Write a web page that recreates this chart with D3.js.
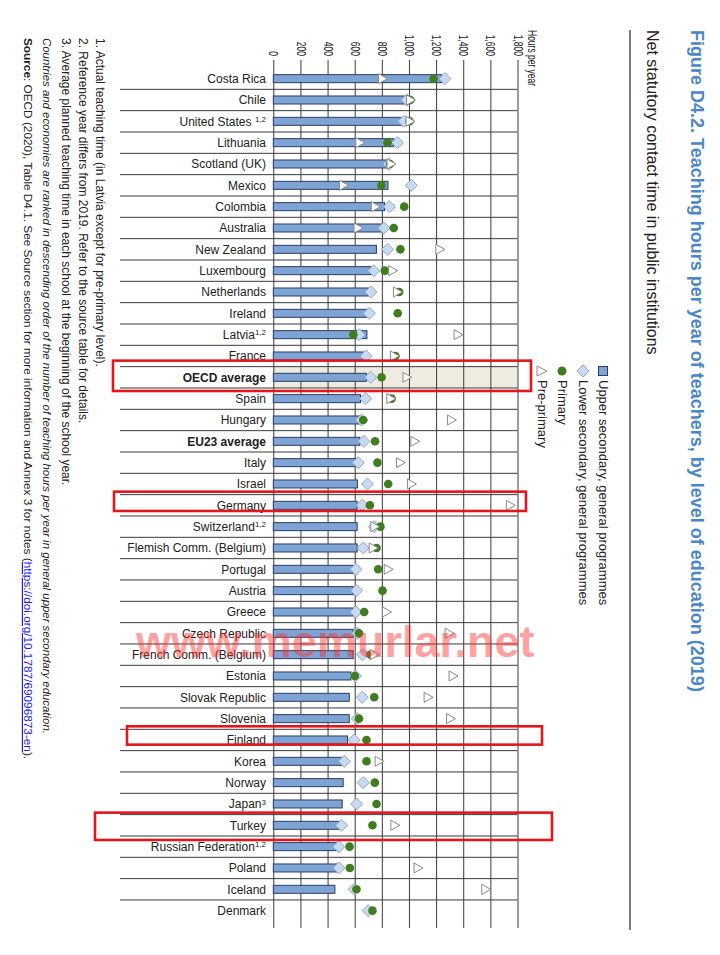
<!DOCTYPE html>
<html><head><meta charset="utf-8">
<script src="https://cdn.jsdelivr.net/npm/d3@7"></script>
<style>
html,body{margin:0;padding:0;background:#fff;}
svg{display:block;font-family:"Liberation Sans",Arial,sans-serif;}
</style></head>
<body>
<svg id="chart" width="720" height="955"></svg>
<script>
// ---------- DATA ----------
const categories = ["Costa Rica","Chile","United States","Lithuania","Scotland (UK)","Mexico","Colombia","Australia","New Zealand","Luxembourg","Netherlands","Ireland","Latvia","France","OECD average","Spain","Hungary","EU23 average","Italy","Israel","Germany","Switzerland","Flemish Comm. (Belgium)","Portugal","Austria","Greece","Czech Republic","French Comm. (Belgium)","Estonia","Slovak Republic","Slovenia","Finland","Korea","Norway","Japan","Turkey","Russian Federation","Poland","Iceland","Denmark"];
const notes = ["","","1,2","","","","","","","","","","1,2","","","","","","","","","1,2","","","","","","","","","","","","","3","","1,2","","",""];
const boldCategories = ["OECD average","EU23 average"];
const upperSecondary = [1240,980,960,885,850,845,820,805,760,720,700,700,690,668,686,643,638,638,622,620,618,618,618,589,589,589,589,589,572,560,560,547,518,515,508,485,466,466,454,null];
const lowerSecondary = [1265,985,962,915,852,1018,855,815,842,741,719,707,633,684,718,680,650,668,626,694,655,744,663,609,614,609,622,658,606,655,618,596,523,663,614,503,483,483,596,699];
const primary        = [1182,1010,1005,842,860,797,965,888,937,822,928,917,590,900,798,872,663,750,768,847,712,790,761,773,805,670,631,717,601,744,631,687,687,748,761,731,562,564,613,731];
const prePrimary     = [805,1012,1008,638,868,518,752,625,1227,880,915,null,1362,893,985,866,1313,1043,937,1018,1747,748,736,847,null,834,1296,745,1325,1141,1306,null,780,null,null,896,null,1067,1566,null];
const tickValues = [0,200,400,600,800,1000,1200,1400,1600,1800];
const legendLabels = ["Upper secondary, general programmes","Lower secondary, general programmes","Primary","Pre-primary"];
const title = "Figure D4.2. Teaching hours per year of teachers, by level of education (2019)";
const subtitle = "Net statutory contact time in public institutions";
const axisTitle = "Hours per year";
const footnotes = ["1. Actual teaching time (in Latvia except for pre-primary level).",
  "2. Reference year differs from 2019. Refer to the source table for details.",
  "3. Average planned teaching time in each school at the beginning of the school year."];
const rankingNote = "Countries and economies are ranked in descending order of the number of teaching hours per year in general upper secondary education.";
const sourceText = "OECD (2020), Table D4.1. See Source section for more information and Annex 3 for notes (";
const sourceLink = "https://doi.org/10.1787/69096873-en";
const highlighted = ["OECD average","Germany","Finland","Turkey"];
const watermark = "www.memurlar.net";

// ---------- STYLE ----------
const C = {bar:"#7ea4d6", barStroke:"#2a3d5e", dia:"#c9daf0", diaStroke:"#8ea9cf",
  prim:"#3f7d1f", tri:"#8a8a8a", grid:"#3a3a3a", title:"#4a86c8", text:"#222"};

const svg = d3.select("#chart");
const x = d3.scaleLinear().domain([0,1800]).range([273.3,517.5]);
const y = d3.scaleBand().domain(categories).range([68,921.3]).paddingInner(0);
const cy = c => y(c) + y.bandwidth()/2;
const gridTop = 60, gridBottom = 928;

// OECD band
svg.append("rect").attr("x",x(0)).attr("y",y("OECD average"))
  .attr("width",x(1800)-x(0)).attr("height",y.bandwidth()).attr("fill","#eeece1");

// vertical grid + tick labels
const ax = svg.append("g").attr("transform",`translate(0,${gridTop})`)
  .call(d3.axisTop(x).tickValues(tickValues).tickSize(-(gridBottom-gridTop)).tickSizeOuter(0));
ax.select(".domain").remove();
ax.selectAll(".tick line").attr("stroke",C.grid).attr("stroke-width",1);
ax.selectAll(".tick text").attr("y",null).attr("dy","0.35em")
  .attr("text-anchor","end").attr("fill",C.text)
  .style("font-size","12.5px")
  .attr("transform","translate(0,-4) rotate(90) scale(0.68,1)");

// horizontal separators
svg.append("g").selectAll("line").data(categories.slice(1)).join("line")
  .attr("x1",120).attr("x2",x(1800))
  .attr("y1",d=>y(d)).attr("y2",d=>y(d))
  .attr("stroke",C.grid).attr("stroke-width",1);

// axis title
svg.append("text").attr("transform","translate(532,30) rotate(90) scale(0.68,1)")
  .attr("dy","0.35em").style("font-size","12.5px").attr("fill",C.text).text(axisTitle);

// category labels
const lab = svg.append("g").selectAll("text").data(categories).join("text")
  .attr("x",266).attr("y",d=>cy(d)).attr("dy","0.36em").attr("text-anchor","end")
  .attr("fill",C.text).style("font-size","12px")
  .style("font-weight",d=>boldCategories.includes(d)?"bold":"normal");
lab.each(function(d,i){
  const t = d3.select(this);
  t.append("tspan").text(d + (notes[i] && d==="United States" ? " " : ""));
  if(notes[i]) t.append("tspan").attr("dy","-0.45em").style("font-size","8px").text(notes[i]);
});

// bars
const rows = categories.map((c,i)=>({c,u:upperSecondary[i],l:lowerSecondary[i],p:primary[i],pp:prePrimary[i]}));
svg.append("g").selectAll("rect").data(rows.filter(r=>r.u!=null)).join("rect")
  .attr("x",x(0)).attr("y",r=>cy(r.c)-4).attr("width",r=>x(r.u)-x(0)).attr("height",8)
  .attr("fill",C.bar).attr("stroke",C.barStroke).attr("stroke-width",1);

// diamonds
const dia = "M0,-6L6,0L0,6L-6,0Z";
svg.append("g").selectAll("path").data(rows.filter(r=>r.l!=null)).join("path")
  .attr("d",dia).attr("transform",r=>`translate(${x(r.l)},${cy(r.c)})`)
  .attr("fill",C.dia).attr("stroke",C.diaStroke).attr("stroke-width",1);
// circles
svg.append("g").selectAll("circle").data(rows.filter(r=>r.p!=null)).join("circle")
  .attr("cx",r=>x(r.p)).attr("cy",r=>cy(r.c)).attr("r",4.3).attr("fill",C.prim);
// triangles
const tri = "M-4,-5L5,0L-4,5Z";
svg.append("g").selectAll("path").data(rows.filter(r=>r.pp!=null)).join("path")
  .attr("d",tri).attr("transform",r=>`translate(${x(r.pp)},${cy(r.c)})`)
  .attr("fill","#fff").attr("stroke",C.tri).attr("stroke-width",1);

// legend
const legX = [603,583,562,542], legY = 371;
const lg = svg.append("g");
lg.append("rect").attr("x",legX[0]-4.5).attr("y",legY-4.5).attr("width",9).attr("height",9)
  .attr("fill",C.bar).attr("stroke",C.barStroke);
lg.append("path").attr("d",dia).attr("transform",`translate(${legX[1]},${legY})`)
  .attr("fill",C.dia).attr("stroke",C.diaStroke);
lg.append("circle").attr("cx",legX[2]).attr("cy",legY).attr("r",4.5).attr("fill",C.prim);
lg.append("path").attr("d","M-5,-5L5,0L-5,5Z").attr("transform",`translate(${legX[3]},${legY})`)
  .attr("fill","#fff").attr("stroke",C.tri);
legendLabels.forEach((t,i)=>{
  lg.append("text").attr("transform",`translate(${legX[i]-4.5},${legY+9}) rotate(90)`)
    .style("font-size","13px").attr("fill",C.text).text(t);
});

// title, subtitle, rule
svg.append("text").attr("transform","translate(691,30) rotate(90)")
  .style("font-size","18px").style("font-weight","bold").attr("fill",C.title).text(title);
svg.append("text").attr("transform","translate(647,30) rotate(90)")
  .style("font-size","16px").attr("fill",C.text).text(subtitle);
svg.append("line").attr("x1",630).attr("x2",630).attr("y1",30).attr("y2",930)
  .attr("stroke","#222").attr("stroke-width",1.2);

// footnotes
const fnX = [96,79,62];
footnotes.forEach((t,i)=>{
  svg.append("text").attr("transform",`translate(${fnX[i]},38) rotate(90)`)
    .style("font-size","12px").attr("fill",C.text).text(t);
});
svg.append("text").attr("transform","translate(43,38) rotate(90)")
  .style("font-size","11.4px").style("font-style","italic").attr("fill",C.text).text(rankingNote);
const src = svg.append("text").attr("transform","translate(24,38) rotate(90)")
  .style("font-size","11.8px").attr("fill",C.text);
src.append("tspan").style("font-weight","bold").text("Source");
src.append("tspan").text(": " + sourceText);
src.append("tspan").attr("fill","#1a1aff").style("text-decoration","underline").text(sourceLink);
src.append("tspan").text(").");

// highlight boxes
const boxes = {"OECD average":[113,418,-6,3],"Germany":[114,412,-3,-5],"Finland":[127,415,-3,-6],"Turkey":[95,457,-2,4]};
highlighted.forEach(c=>{
  const b = boxes[c];
  svg.append("rect").attr("x",b[0]).attr("width",b[1])
    .attr("y",y(c)+b[2]).attr("height",y.bandwidth()-b[2]+b[3])
    .attr("fill","none").attr("stroke","#e3161d").attr("stroke-width",2.6);
});

// watermark
svg.append("text").attr("x",136).attr("y",657).style("font-size","45px").style("font-weight","bold")
  .attr("fill","#ff3030").attr("opacity",0.45).text(watermark);
</script>
</body></html>
